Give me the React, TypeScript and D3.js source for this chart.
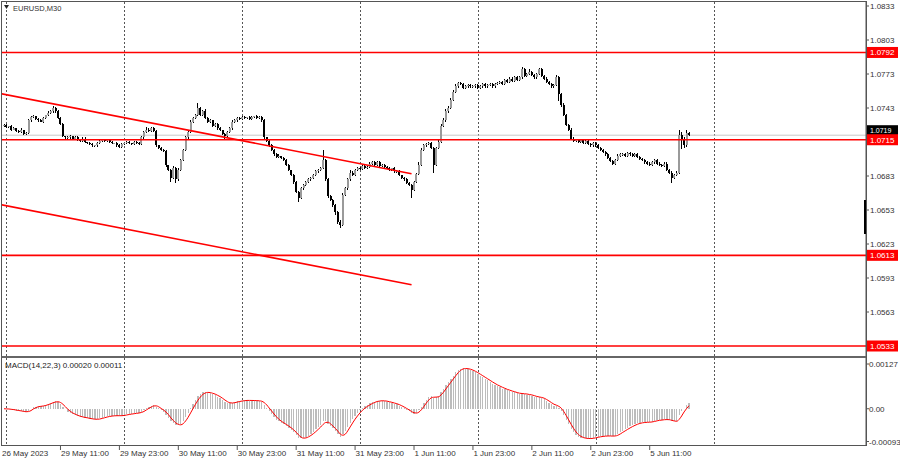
import React from 'react';
import * as d3 from 'd3';

// EURUSD M30 closes (bar 0 = 26 May 23:30)
const closes = [
  1.0728, 1.0726, 1.0727, 1.0724, 1.0725, 1.0723, 1.0722, 1.0724, 1.072, 1.0721,
  1.0732, 1.0735, 1.0736, 1.0733, 1.0732, 1.0731, 1.0734, 1.0737, 1.0739, 1.074,
  1.0743, 1.074, 1.0734, 1.0729, 1.0718, 1.0717, 1.0717, 1.0718, 1.0716, 1.0717,
  1.0715, 1.0714, 1.0716, 1.0713, 1.0712, 1.0711, 1.071, 1.071, 1.0712, 1.0714,
  1.0715, 1.0714, 1.0715, 1.0713, 1.0712, 1.0712, 1.071, 1.0709, 1.0711, 1.0712,
  1.0713, 1.0712, 1.0711, 1.0713, 1.0712, 1.0711, 1.0717, 1.0722, 1.0724, 1.0723,
  1.0725, 1.0723, 1.071, 1.0708, 1.0706, 1.0705, 1.0693, 1.0688, 1.0681, 1.069,
  1.068, 1.0688, 1.0697, 1.0706, 1.0717, 1.0722, 1.0731, 1.0734, 1.0737, 1.0743,
  1.0737, 1.074, 1.0734, 1.0731, 1.0732, 1.0727, 1.0729, 1.0725, 1.0724, 1.072,
  1.0718, 1.0722, 1.0725, 1.0731, 1.0732, 1.0734, 1.0733, 1.0735, 1.0734, 1.0735,
  1.0733, 1.0735, 1.0736, 1.0734, 1.0735, 1.0732, 1.0717, 1.0714, 1.071, 1.0706,
  1.0702, 1.07, 1.0701, 1.0699, 1.0697, 1.0693, 1.0688, 1.0684, 1.0678, 1.0669,
  1.0664, 1.0672, 1.0675, 1.0678, 1.068, 1.0681, 1.0684, 1.0687, 1.0688, 1.069,
  1.0697, 1.068, 1.0665, 1.0662, 1.0657, 1.0651, 1.0642, 1.064, 1.0666, 1.0672,
  1.068, 1.0686, 1.0684, 1.0688, 1.069, 1.0689, 1.0692, 1.069, 1.0691, 1.0694,
  1.0695, 1.0693, 1.0695, 1.0692, 1.0693, 1.0691, 1.069, 1.0688, 1.069, 1.0687,
  1.0687, 1.0684, 1.0681, 1.068, 1.0677, 1.0675, 1.0671, 1.0678, 1.0685, 1.0693,
  1.0706, 1.071, 1.0711, 1.0712, 1.0708, 1.0693, 1.0708, 1.0713, 1.0727, 1.0732,
  1.074, 1.0743, 1.075, 1.0757, 1.0762, 1.0765, 1.0764, 1.0761, 1.0762, 1.0763,
  1.0762, 1.0762, 1.0763, 1.0761, 1.0762, 1.0764, 1.0762, 1.0763, 1.0764, 1.0762,
  1.0764, 1.0765, 1.0766, 1.0764, 1.0768, 1.0766, 1.0769, 1.0767, 1.077, 1.0768,
  1.077, 1.0777, 1.0771, 1.0773, 1.0775, 1.0772, 1.077, 1.0773, 1.0777, 1.0771,
  1.0769, 1.0766, 1.0764, 1.0762, 1.0763, 1.077, 1.0755, 1.0746, 1.0737, 1.0728,
  1.0724, 1.0716, 1.0714, 1.0715, 1.0713, 1.0715, 1.0712, 1.0714, 1.0711, 1.071,
  1.0712, 1.071, 1.0708, 1.0706, 1.0704, 1.0702, 1.0699, 1.0696, 1.0694, 1.0697,
  1.0701, 1.0702, 1.0702, 1.0701, 1.0703, 1.0702, 1.0701, 1.0702, 1.07, 1.0698,
  1.0697, 1.0695, 1.0694, 1.0693, 1.0695, 1.0697, 1.0694, 1.0693, 1.0692, 1.0694,
  1.0688, 1.0686, 1.0681, 1.0684, 1.0686, 1.0719, 1.0715, 1.071, 1.0721, 1.0719,
];
const firstOpen = 1.0727;

// wick lengths beyond the body, in pips
const upWick = [
  1, 1, 0, 1, 1, 0, 1, 1, 0, 1, 1, 1, 1, 0, 1, 1, 1, 0, 1, 1,
  2, 1, 1, 1, 1, 0, 1, 1, 0, 1, 1, 0, 1, 1, 0, 1, 1, 0, 1, 1,
  1, 1, 0, 1, 1, 0, 1, 1, 1, 0, 1, 1, 0, 1, 1, 1, 1, 1, 2, 1,
  1, 1, 1, 0, 1, 1, 1, 0, 1, 2, 1, 2, 1, 1, 1, 2, 1, 1, 1, 4,
  1, 1, 2, 1, 1, 0, 1, 1, 1, 0, 1, 1, 1, 1, 1, 1, 1, 1, 1, 0,
  1, 1, 0, 1, 1, 1, 1, 0, 1, 1, 1, 1, 1, 0, 1, 1, 1, 0, 1, 1,
  1, 1, 1, 1, 1, 1, 1, 1, 1, 1, 9, 1, 1, 1, 1, 1, 1, 2, 2, 1,
  1, 2, 1, 1, 1, 1, 1, 1, 1, 1, 1, 1, 1, 1, 1, 1, 1, 1, 0, 1,
  1, 1, 0, 1, 1, 1, 1, 1, 1, 2, 2, 1, 1, 1, 1, 1, 1, 2, 2, 2,
  2, 2, 2, 2, 2, 1, 1, 1, 1, 1, 1, 1, 1, 1, 1, 1, 1, 1, 1, 1,
  1, 1, 1, 1, 1, 1, 1, 1, 1, 1, 1, 2, 1, 1, 2, 1, 1, 1, 1, 1,
  1, 1, 1, 1, 1, 2, 1, 1, 1, 1, 1, 1, 1, 1, 1, 1, 1, 1, 1, 1,
  1, 1, 1, 1, 1, 1, 1, 1, 1, 1, 1, 1, 1, 1, 1, 1, 1, 1, 1, 1,
  1, 1, 1, 1, 1, 1, 1, 1, 1, 1, 1, 1, 1, 1, 1, 5, 3, 2, 3, 1,
];
const downWick = [
  1, 1, 1, 1, 0, 1, 1, 1, 1, 1, 1, 1, 1, 1, 1, 0, 1, 1, 1, 1,
  1, 1, 1, 1, 1, 1, 1, 1, 1, 1, 1, 1, 1, 1, 1, 1, 1, 1, 1, 1,
  1, 1, 1, 1, 1, 1, 1, 1, 1, 1, 1, 1, 1, 1, 1, 1, 1, 1, 1, 1,
  1, 1, 1, 1, 1, 1, 2, 1, 3, 1, 3, 1, 1, 1, 1, 1, 1, 1, 1, 1,
  1, 1, 1, 1, 1, 1, 1, 1, 1, 1, 2, 1, 1, 1, 1, 1, 1, 1, 1, 1,
  1, 1, 1, 1, 1, 1, 1, 1, 1, 1, 1, 1, 1, 1, 1, 1, 1, 1, 2, 1,
  4, 1, 1, 1, 1, 1, 1, 1, 1, 1, 1, 1, 1, 1, 1, 2, 1, 3, 1, 1,
  1, 1, 1, 1, 1, 1, 1, 1, 1, 1, 1, 1, 1, 1, 1, 1, 1, 1, 1, 1,
  1, 1, 1, 1, 1, 1, 7, 1, 1, 1, 1, 1, 1, 1, 1, 7, 1, 1, 1, 1,
  1, 1, 1, 1, 1, 1, 1, 1, 1, 1, 1, 1, 1, 1, 1, 1, 1, 1, 1, 1,
  1, 1, 1, 1, 1, 1, 1, 1, 1, 1, 1, 1, 1, 1, 1, 1, 1, 1, 1, 1,
  1, 1, 1, 1, 1, 1, 6, 2, 1, 1, 1, 1, 1, 1, 1, 1, 1, 1, 1, 1,
  1, 1, 1, 1, 1, 1, 1, 1, 1, 1, 1, 1, 1, 1, 1, 1, 1, 1, 1, 1,
  1, 1, 1, 1, 1, 1, 1, 1, 1, 1, 1, 1, 4, 1, 1, 1, 8, 2, 1, 1,
];

const levels = [1.0792, 1.0715, 1.0613, 1.0533];
const lastPrice = 1.0719;
const priceTicks = [1.0833, 1.0803, 1.0773, 1.0743, 1.0683, 1.0653, 1.0623, 1.0593, 1.0563];
const macdTicks = [0.00127, 0, -0.00093];
const macdTickLabels = ['0.00127', '0.00', '-0.00093'];
const timeTicks = [
  '29 May 11:00', '29 May 23:00', '30 May 11:00', '30 May 23:00', '31 May 11:00',
  '31 May 23:00', '1 Jun 11:00', '1 Jun 23:00', '2 Jun 11:00', '2 Jun 23:00', '5 Jun 11:00',
];
const firstLabel = '26 May 2023';
// trend channel, [bar index, price]
const trendUpper: [number, number][] = [[-2, 1.0756], [166, 1.0685]];
const trendLower: [number, number][] = [[-2, 1.0658], [166, 1.0587]];
const macdFast = 14;
const macdSlow = 22;
const macdSignal = 3;

const FONT = '"Liberation Sans", Arial, sans-serif';

function ema(vals: number[], n: number) {
  const k = 2 / (n + 1);
  let prev = vals[0];
  return vals.map((v, i) => (i === 0 ? v : (prev = v * k + prev * (1 - k))));
}

function buildTimes(n: number) {
  const out: Date[] = [];
  let t = new Date(2023, 4, 26, 23, 30);
  while (out.length < n) {
    const d = t.getDay();
    if (d !== 0 && d !== 6) out.push(t);
    t = d3.timeMinute.offset(t, 30);
  }
  return out;
}

const App = () => {
  const n = closes.length;
  const opens = [firstOpen, ...closes.slice(0, -1)];
  const times = buildTimes(n + 20);
  const fmt = d3.timeFormat('%-d %b %H:%M');

  const x = d3.scaleLinear().domain([0, n - 1]).range([4, 689]);
  const yP = d3.scaleLinear().domain([1.0533, 1.0833]).range([346, 6]);
  const yM = d3.scaleLinear().domain([-0.00093, 0.00127]).range([441.5, 364]);

  const fast = ema(closes, macdFast);
  const slow = ema(closes, macdSlow);
  const macd = fast.map((f, i) => f - slow[i]);
  const signal = macd.map((_, i) => d3.mean(macd.slice(Math.max(0, i - macdSignal + 1), i + 1)) as number);

  const dayStarts = times
    .map((t, i) => (t.getHours() === 0 && t.getMinutes() === 0 ? i : -1))
    .filter((i) => i >= 0 && x(i) < 866);

  const tickBars = timeTicks.map((lab) => times.findIndex((t) => fmt(t) === lab));

  const trendLine = d3
    .line<[number, number]>()
    .x((d) => x(d[0]))
    .y((d) => yP(d[1]));
  const sigLine = d3
    .line<number>()
    .x((_, i) => x(i))
    .y((d) => yM(d))
    .curve(d3.curveMonotoneX);

  const right = 866;

  return (
    <div style={{ position: 'absolute', left: 0, top: 0 }}>
      <svg width={900} height={460} style={{ display: 'block', background: '#fff', fontFamily: FONT }}>
        <defs>
          <clipPath id="mainClip">
            <rect x={2} y={2} width={right - 2} height={354} />
          </clipPath>
          <clipPath id="macdClip">
            <rect x={2} y={358} width={right - 2} height={87} />
          </clipPath>
        </defs>

        {/* day separators */}
        {dayStarts.map((i) => (
          <line
            key={'g' + i}
            x1={Math.round(x(i)) + 0.5}
            x2={Math.round(x(i)) + 0.5}
            y1={2}
            y2={445}
            stroke="#555"
            strokeDasharray="2,2"
            shapeRendering="crispEdges"
          />
        ))}

        {/* last price line */}
        <line x1={2} x2={right} y1={yP(lastPrice)} y2={yP(lastPrice)} stroke="#c8c8c8" strokeWidth={1} />

        {/* candles */}
        <g clipPath="url(#mainClip)" shapeRendering="crispEdges">
          {closes.map((c, i) => {
            const o = opens[i];
            const hi = Math.max(o, c) + upWick[i] * 0.0001;
            const lo = Math.min(o, c) - downWick[i] * 0.0001;
            const cx = x(i);
            const top = yP(Math.max(o, c));
            const bot = yP(Math.min(o, c));
            return (
              <g key={i}>
                <line x1={cx} x2={cx} y1={yP(hi)} y2={yP(lo)} stroke="#000" strokeWidth={1} />
                <rect
                  x={cx - 1}
                  y={top}
                  width={2}
                  height={Math.max(1, bot - top)}
                  fill={c >= o ? '#9a9a9a' : '#000'}
                />
              </g>
            );
          })}
        </g>

        {/* levels */}
        {levels.map((lv) => (
          <line key={'lv' + lv} x1={2} x2={right} y1={yP(lv)} y2={yP(lv)} stroke="#ff0000" strokeWidth={1.6} />
        ))}

        {/* channel */}
        <g clipPath="url(#mainClip)">
          <path d={trendLine(trendUpper) || ''} stroke="#ff0000" strokeWidth={1.6} fill="none" />
          <path d={trendLine(trendLower) || ''} stroke="#ff0000" strokeWidth={1.6} fill="none" />
        </g>

        {/* MACD pane */}
        <g clipPath="url(#macdClip)" shapeRendering="crispEdges">
          {macd.map((v, i) => (
            <rect
              key={'h' + i}
              x={x(i) - 0.6}
              y={Math.min(yM(v), yM(0))}
              width={1.3}
              height={Math.max(0.5, Math.abs(yM(v) - yM(0)))}
              fill="#bcbcbc"
            />
          ))}
        </g>
        <g clipPath="url(#macdClip)">
          <path d={sigLine(signal) || ''} stroke="#ff0000" strokeWidth={1} fill="none" />
        </g>
        <text x={5} y={368} fontSize={8} fill="#222">
          MACD(14,22,3) 0.00020 0.00011
        </text>

        {/* frame */}
        <rect x={1.5} y={1.5} width={right - 1.5} height={444} fill="none" stroke="#555" strokeWidth={1} />
        <line x1={1.5} x2={right} y1={357} y2={357} stroke="#666" strokeWidth={2} />
        <rect x={864} y={200} width={2.5} height={34} fill="#000" />

        {/* title */}
        <path d="M4,5 L9,5 L6.5,9 Z" fill="#222" />
        <text x={13} y={11} fontSize={7.5} fill="#333">
          EURUSD,M30
        </text>

        {/* price axis */}
        {priceTicks.map((p) => (
          <g key={'p' + p}>
            <line x1={right} x2={right + 3} y1={yP(p)} y2={yP(p)} stroke="#555" />
            <text x={870} y={yP(p) + 3} fontSize={8} fill="#333">
              {p.toFixed(4)}
            </text>
          </g>
        ))}
        <rect x={right + 1} y={yP(lastPrice) - 10} width={31} height={10} fill="#000" />
        <text x={870} y={yP(lastPrice) - 2.6} fontSize={7} fill="#fff">
          {lastPrice.toFixed(4)}
        </text>
        {levels.map((lv) => (
          <g key={'lb' + lv}>
            <rect x={right + 1} y={yP(lv) - 5.5} width={31} height={11} fill="#ff0000" />
            <text x={870} y={yP(lv) + 3} fontSize={8} fill="#fff">
              {lv.toFixed(4)}
            </text>
          </g>
        ))}

        {/* MACD axis */}
        {macdTicks.map((v, i) => (
          <g key={'m' + i}>
            <line x1={right} x2={right + 3} y1={yM(v)} y2={yM(v)} stroke="#555" />
            <text x={869} y={yM(v) + 3} fontSize={8} fill="#333">
              {macdTickLabels[i]}
            </text>
          </g>
        ))}
        <line x1={right + 0.5} x2={right + 0.5} y1={1} y2={446} stroke="#555" />

        {/* time axis */}
        <text x={2} y={456} fontSize={8} fill="#333">
          {firstLabel}
        </text>
        {tickBars.map((b, i) => (
          <g key={'t' + i}>
            <line x1={x(b)} x2={x(b)} y1={446} y2={450} stroke="#555" />
            <text x={x(b) + 0.5} y={456} fontSize={8} fill="#333">
              {timeTicks[i]}
            </text>
          </g>
        ))}
      </svg>
    </div>
  );
};

export default App;
